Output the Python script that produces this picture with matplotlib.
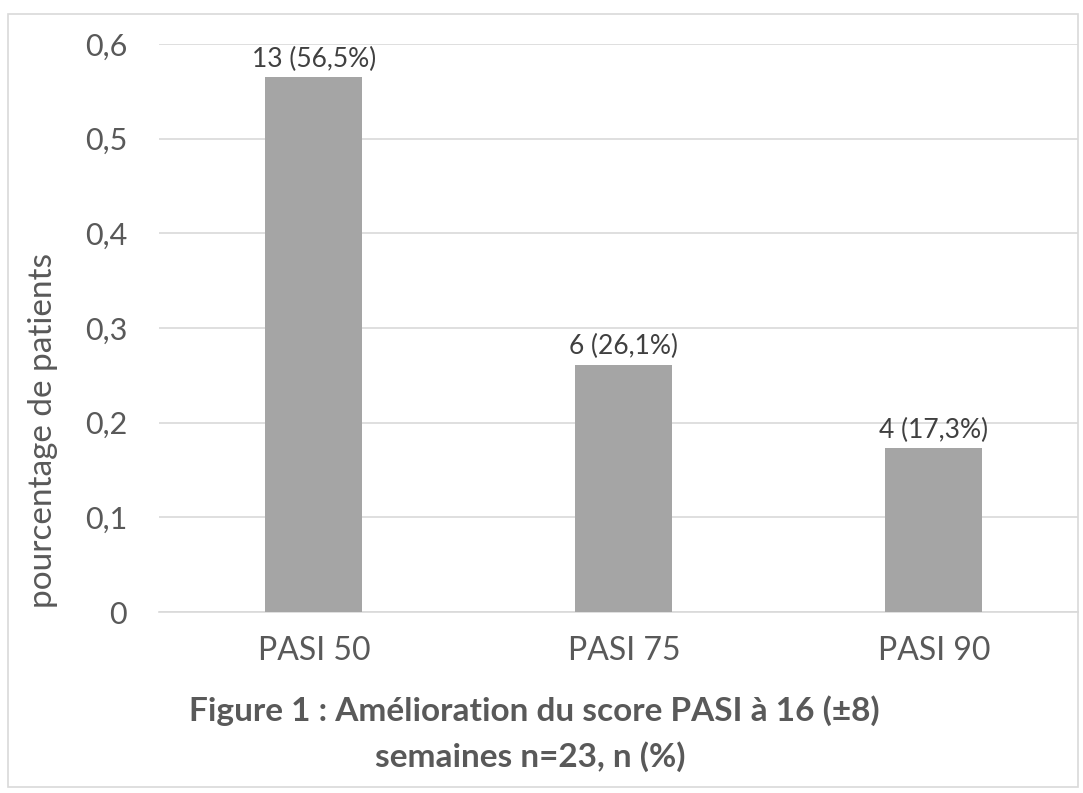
import matplotlib.pyplot as plt
from matplotlib.patches import Rectangle

categories = ['PASI 50', 'PASI 75', 'PASI 90']
values = [0.565, 0.261, 0.173]
labels = ['13 (56,5%)', '6 (26,1%)', '4 (17,3%)']
yticks = [0, 0.1, 0.2, 0.3, 0.4, 0.5, 0.6]
ytick_labels = ['0', '0,1', '0,2', '0,3', '0,4', '0,5', '0,6']

plt.rcParams['font.family'] = ['Lato', 'DejaVu Sans']

W, H = 1083, 793
fig = plt.figure(figsize=(W / 100, H / 100), dpi=100)

# chart frame
fig.patches.append(Rectangle((8 / W, 6 / H), 1070 / W, (H - 20) / H,
                             transform=fig.transFigure, fill=False,
                             edgecolor='#d9d9d9', linewidth=1.2))

ax = fig.add_axes([159 / W, 1 - 612 / H, (1078 - 159) / W, (612 - 44) / H])
x = range(len(categories))
ax.bar(x, values, width=0.313, color='#a5a5a5', zorder=3)
ax.set_xlim(-0.5, 2.465)
ax.set_ylim(0, 0.6)
ax.set_yticks(yticks)
ax.set_yticklabels(ytick_labels)
ax.set_xticks(list(x))
ax.set_xticklabels(categories)
ax.grid(axis='y', color='#d9d9d9', linewidth=1.2, zorder=0)
for s in ['top', 'right', 'left']:
    ax.spines[s].set_visible(False)
ax.spines['bottom'].set_color('#d9d9d9')
ax.spines['bottom'].set_linewidth(1.2)
ax.tick_params(length=0, colors='#595959')
ax.tick_params(axis='y', labelsize=22, pad=23)
ax.tick_params(axis='x', labelsize=23, pad=17)

for xi, v, lab in zip(x, values, labels):
    ax.annotate(lab, (xi, v), xytext=(0, 4), textcoords='offset points',
                ha='center', va='bottom', fontsize=19, color='#404040')

fig.text(43 / W, 1 - 430 / H, 'pourcentage de patients', rotation=90,
         ha='center', va='center', fontsize=24, color='#595959')
fig.text(534 / W, 1 - 711 / H, 'Figure 1 : Amélioration du score PASI à 16 (±8)',
         ha='center', va='center', fontsize=24, fontweight='bold', color='#595959')
fig.text(530 / W, 1 - 757 / H, 'semaines n=23, n (%)',
         ha='center', va='center', fontsize=24, fontweight='bold', color='#595959')

fig.savefig('out.png', dpi=100)
